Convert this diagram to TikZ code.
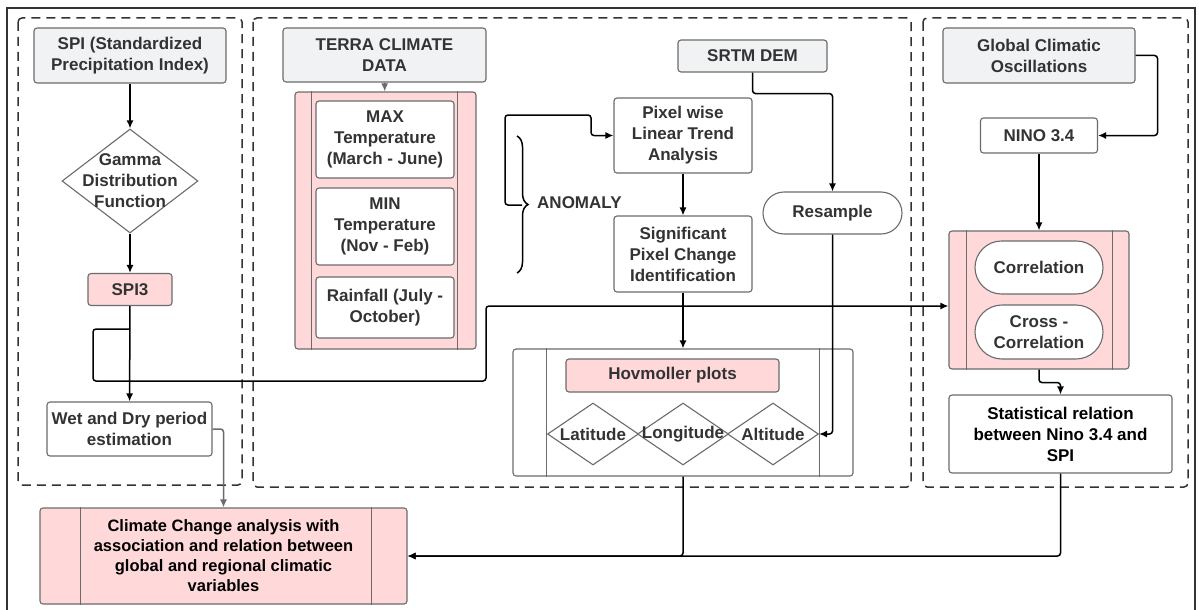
\documentclass[tikz,border=0pt]{standalone}
\usepackage{fontspec}
\setmainfont{Liberation Sans}
\usetikzlibrary{arrows.meta,positioning,shapes.geometric,shapes.misc,decorations.pathreplacing}
\definecolor{srcgray}{HTML}{F1F2F4}
\definecolor{pinkfill}{HTML}{FFD9DA}
\definecolor{edgegray}{HTML}{6B6B6B}
\definecolor{txtgray}{HTML}{333333}

\begin{document}
\begin{tikzpicture}[
        x=1pt,
        y=-1pt,
        >={Latex[length=8pt,width=7pt]},
        every node/.style={font=\fontsize{17}{21}\selectfont\bfseries, text=txtgray, align=center, inner sep=0pt},
        src/.style={draw=edgegray, fill=srcgray, line width=1.1pt, rounded corners=3pt},
        proc/.style={draw=edgegray, fill=white, line width=1.1pt, rounded corners=3pt},
        pinkbox/.style={draw=edgegray, fill=pinkfill, line width=1.1pt, rounded corners=3pt},
        term/.style={draw=edgegray, fill=white, line width=1.1pt, rounded rectangle},
        decision/.style={draw=edgegray, fill=white, line width=1.1pt, diamond},
        bar/.style={draw=edgegray, line width=1.1pt},
        panel/.style={draw=txtgray, dash pattern=on 9pt off 6pt, line width=1.5pt, rounded corners=4pt},
        conn/.style={->, line width=1.5pt, draw=black, rounded corners=3pt},
        graylink/.style={->, line width=1.5pt, draw=edgegray, rounded corners=3pt}
    ]
        \useasboundingbox (0,0) rectangle (1199,610);
        \draw[line width=1.5pt, draw=txtgray] (7,8) rectangle (1195,640);
        \draw[panel] (18,18) rectangle (242,485);
        \draw[panel] (253,18) rectangle (911,487);
        \draw[panel] (923,18) rectangle (1188,487);

        \node[src, minimum width=192, minimum height=55] (spi) at (130,55.5) {SPI (Standardized\\Precipitation Index)};
        \node[decision, minimum width=136, minimum height=104] (gamma) at (130,181) {};
        \node (gammatxt) at (gamma) {Gamma\\Distribution\\Function};
        \node[pinkbox, minimum width=84, minimum height=32] (spi3) at (130,289.5) {SPI3};
        \node[proc, minimum width=165, minimum height=54] (wet) at (129.5,429) {Wet and Dry period\\estimation};

        \node[src, minimum width=203, minimum height=54] (terra) at (384.5,55) {TERRA CLIMATE\\DATA};
        \node[pinkbox, minimum width=181, minimum height=257] (terraframe) at (385.5,220.5) {};
        \node[pinkbox, minimum width=340, minimum height=127, fill=white] (hovframe) at (683,412.5) {};
        \node[pinkbox, minimum width=180, minimum height=138] (corrframe) at (1039,300) {};
        \node[pinkbox, minimum width=367, minimum height=96, text=black, font=\fontsize{16.5}{20}\selectfont\bfseries] (climate) at (223.5,556) {Climate Change analysis with\\association and relation between\\global and regional climatic\\variables};
        \foreach \f/\l/\r in {terraframe/17/19, hovframe/34/34, corrframe/18/17, climate/41/36} {
            \draw[bar] ([xshift=\l]\f.north west) -- ([xshift=\l]\f.south west);
            \draw[bar] ([xshift=-\r]\f.north east) -- ([xshift=-\r]\f.south east);
        }

        \node[proc, minimum width=138, minimum height=77] (tmax) at (385,139.5) {MAX\\Temperature\\(March - June)};
        \node[proc, minimum width=138, minimum height=77] (tmin) at (385,226.5) {MIN\\Temperature\\(Nov - Feb)};
        \node[proc, minimum width=138, minimum height=61] (rain) at (385,307.5) {Rainfall (July -\\October)};

        \node[proc, minimum width=138, minimum height=75] (pixel) at (683,135.5) {Pixel wise\\Linear Trend\\Analysis};
        \node[proc, minimum width=138, minimum height=76] (signif) at (683,254) {Significant\\Pixel Change\\Identification};
        \draw[line width=1.5pt, decorate, decoration={brace, amplitude=11pt}] (517,136) -- (517,273);
        \coordinate (anom) at (522,205);
        \node[anchor=west] (anomaly) at (537,203) {ANOMALY};
        \node[src, minimum width=149, minimum height=32] (srtm) at (752.5,56) {SRTM DEM};
        \node[term, minimum width=139, minimum height=42] (resample) at (832.5,213) {Resample};
        \node[pinkbox, minimum width=213, minimum height=33] (hovplots) at (672.5,375.5) {Hovmoller plots};
        \foreach \n/\t/\x in {lat/Latitude/593, lon/Longitude/683, alt/Altitude/773} {
            \node[decision, minimum width=91, minimum height=62] (\n) at (\x,434) {};
            \node (\n-txt) at (\n) {\t};
        }

        \node[src, minimum width=192, minimum height=55] (glob) at (1039,55.5) {Global Climatic\\Oscillations};
        \node[proc, minimum width=117, minimum height=35] (nino) at (1039,135.5) {NINO 3.4};
        \node[term, minimum width=128, minimum height=53] (corr) at (1039,267.5) {Correlation};
        \node[term, minimum width=128, minimum height=54] (xcorr) at (1039,332) {Cross -\\Correlation};
        \node[proc, minimum width=223, minimum height=78, text=black] (stat) at (1060.5,434) {Statistical relation\\between Nino 3.4 and\\SPI};

        \draw[conn] (spi) -- (gamma);
        \draw[conn] (gamma) -- (spi3);
        \draw[conn] (spi3) -- (wet);
        \coordinate (spisplit) at (130,329);
        \coordinate (hop) at (486,306);
        \draw[conn] (spisplit) -| (93,381) -| (hop) -- (hop -| corrframe.west);
        \draw[graylink] (wet.east) -| (climate.north);
        \draw[graylink] (terra) -- (terraframe);
        \draw[conn] (anom) -- (505,205) |- (591,115) |- (pixel.west);
        \draw[conn] (pixel) -- (signif);
        \draw[conn] (signif) -- (hovframe);
        \draw[conn] (srtm.south) -- ++(0,21) -| (resample.north);
        \draw[conn] (resample.south) |- (alt.east);
        \draw[conn] (hovframe.south) |- (climate.east);
        \draw[conn] (glob.east) -- ++(22,0) |- (nino.east);
        \draw[conn] (nino) -- (corrframe);
        \draw[conn] (corrframe.south) -- ++(0,13) -| (stat.north);
        \draw[conn] (stat.south) |- (climate.east);
    \end{tikzpicture}
\end{document}
